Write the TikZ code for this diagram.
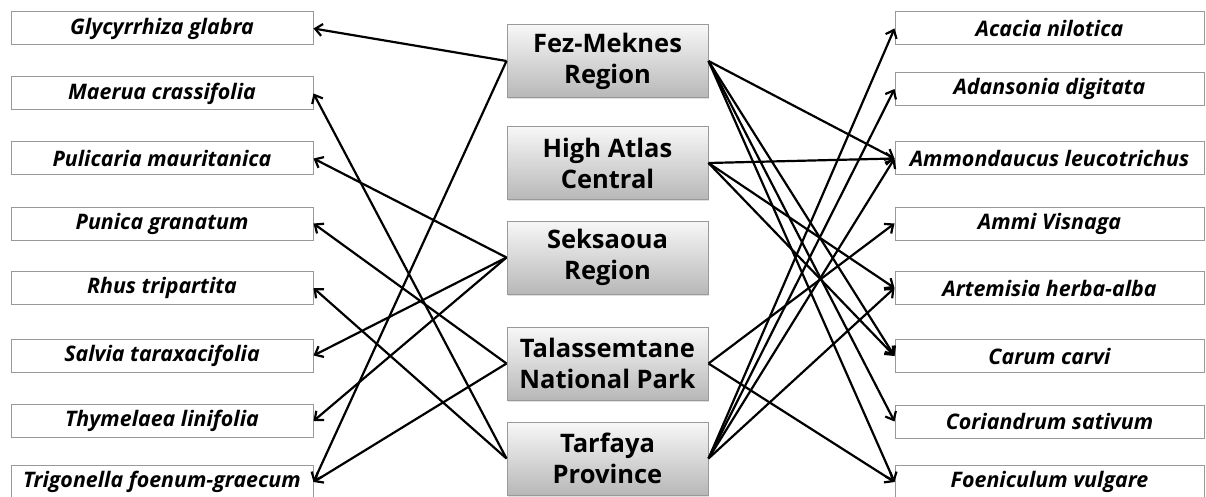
\documentclass[tikz,border=0pt]{standalone}
\usepackage{fontspec}
\setmainfont{Open Sans}
\usetikzlibrary{arrows.meta,shadows}
\begin{document}
\begin{tikzpicture}[x=1pt,y=-1pt,
  sidebox/.style={draw=black!40, line width=1pt, fill=white, minimum height=33pt, inner sep=0pt,
    font=\fontsize{21.4}{24}\selectfont\bfseries\itshape},
  lbox/.style={sidebox, minimum width=302pt},
  rbox/.style={sidebox, minimum width=309pt},
  regbox/.style={draw=black!40, line width=1pt, top color=black!3, bottom color=black!28,
    minimum width=201pt, minimum height=73pt, inner sep=0pt, align=center,
    font=\fontsize{25.5}{31}\selectfont\bfseries,
    drop shadow={opacity=0.25, shadow xshift=1pt, shadow yshift=-1.5pt}},
  arr/.style={line width=2.2pt, -{Straight Barb[length=7pt,width=12pt]}}]
\useasboundingbox (0,0) rectangle (1206,497);

% left species
\node[lbox] (glyc) at (162,28.5) {Glycyrrhiza glabra};
\node[lbox] (maer) at (162,93.5) {Maerua crassifolia};
\node[lbox] (puli) at (162,158.5) {Pulicaria mauritanica};
\node[lbox] (puni) at (162,223.5) {Punica granatum};
\node[lbox] (rhus) at (162,288) {Rhus tripartita};
\node[lbox] (salv) at (162,355.5) {Salvia taraxacifolia};
\node[lbox] (thym) at (162,421) {Thymelaea linifolia};
\node[lbox] (trig) at (162,482) {Trigonella foenum-graecum};

% regions
\node[regbox] (fez) at (607.5,61) {Fez-Meknes\\Region};
\node[regbox] (hac) at (607.5,163) {High Atlas\\Central};
\node[regbox] (sek) at (607.5,257.5) {Seksaoua\\Region};
\node[regbox] (tal) at (607.5,363.5) {Talassemtane\\National Park};
\node[regbox] (tar) at (607.5,458.5) {Tarfaya\\Province};

% right species
\node[rbox] (acac) at (1049.5,28.5) {Acacia nilotica};
\node[rbox] (adan) at (1049.5,89) {Adansonia digitata};
\node[rbox] (ammo) at (1049.5,158.5) {Ammondaucus leucotrichus};
\node[rbox] (ammi) at (1049.5,223.5) {Ammi Visnaga};
\node[rbox] (arte) at (1049.5,288) {Artemisia herba-alba};
\node[rbox] (caru) at (1049.5,356) {Carum carvi};
\node[rbox] (cori) at (1049.5,421.5) {Coriandrum sativum};
\node[rbox] (foen) at (1049.5,482) {Foeniculum vulgare};

% left connectors
\draw[arr] (fez.west) -- (glyc.east);
\draw[arr] (fez.west) -- (trig.east);
\draw[arr] (sek.west) -- (puli.east);
\draw[arr] (sek.west) -- (salv.east);
\draw[arr] (sek.west) -- (thym.east);
\draw[arr] (tal.west) -- (puni.east);
\draw[arr] (tal.west) -- (trig.east);
\draw[arr] (tar.west) -- (maer.east);
\draw[arr] (tar.west) -- (rhus.east);

% right connectors
\draw[arr] (fez.east) -- (ammo.west);
\draw[arr] (fez.east) -- (caru.west);
\draw[arr] (fez.east) -- (cori.west);
\draw[arr] (fez.east) -- (foen.west);
\draw[arr] (hac.east) -- (ammo.west);
\draw[arr] (hac.east) -- (arte.west);
\draw[arr] (hac.east) -- (caru.west);
\draw[arr] (tal.east) -- (ammi.west);
\draw[arr] (tal.east) -- (foen.west);
\draw[arr] (tar.east) -- (acac.west);
\draw[arr] (tar.east) -- (adan.west);
\draw[arr] (tar.east) -- (ammo.west);
\draw[arr] (tar.east) -- (arte.west);
\end{tikzpicture}
\end{document}
